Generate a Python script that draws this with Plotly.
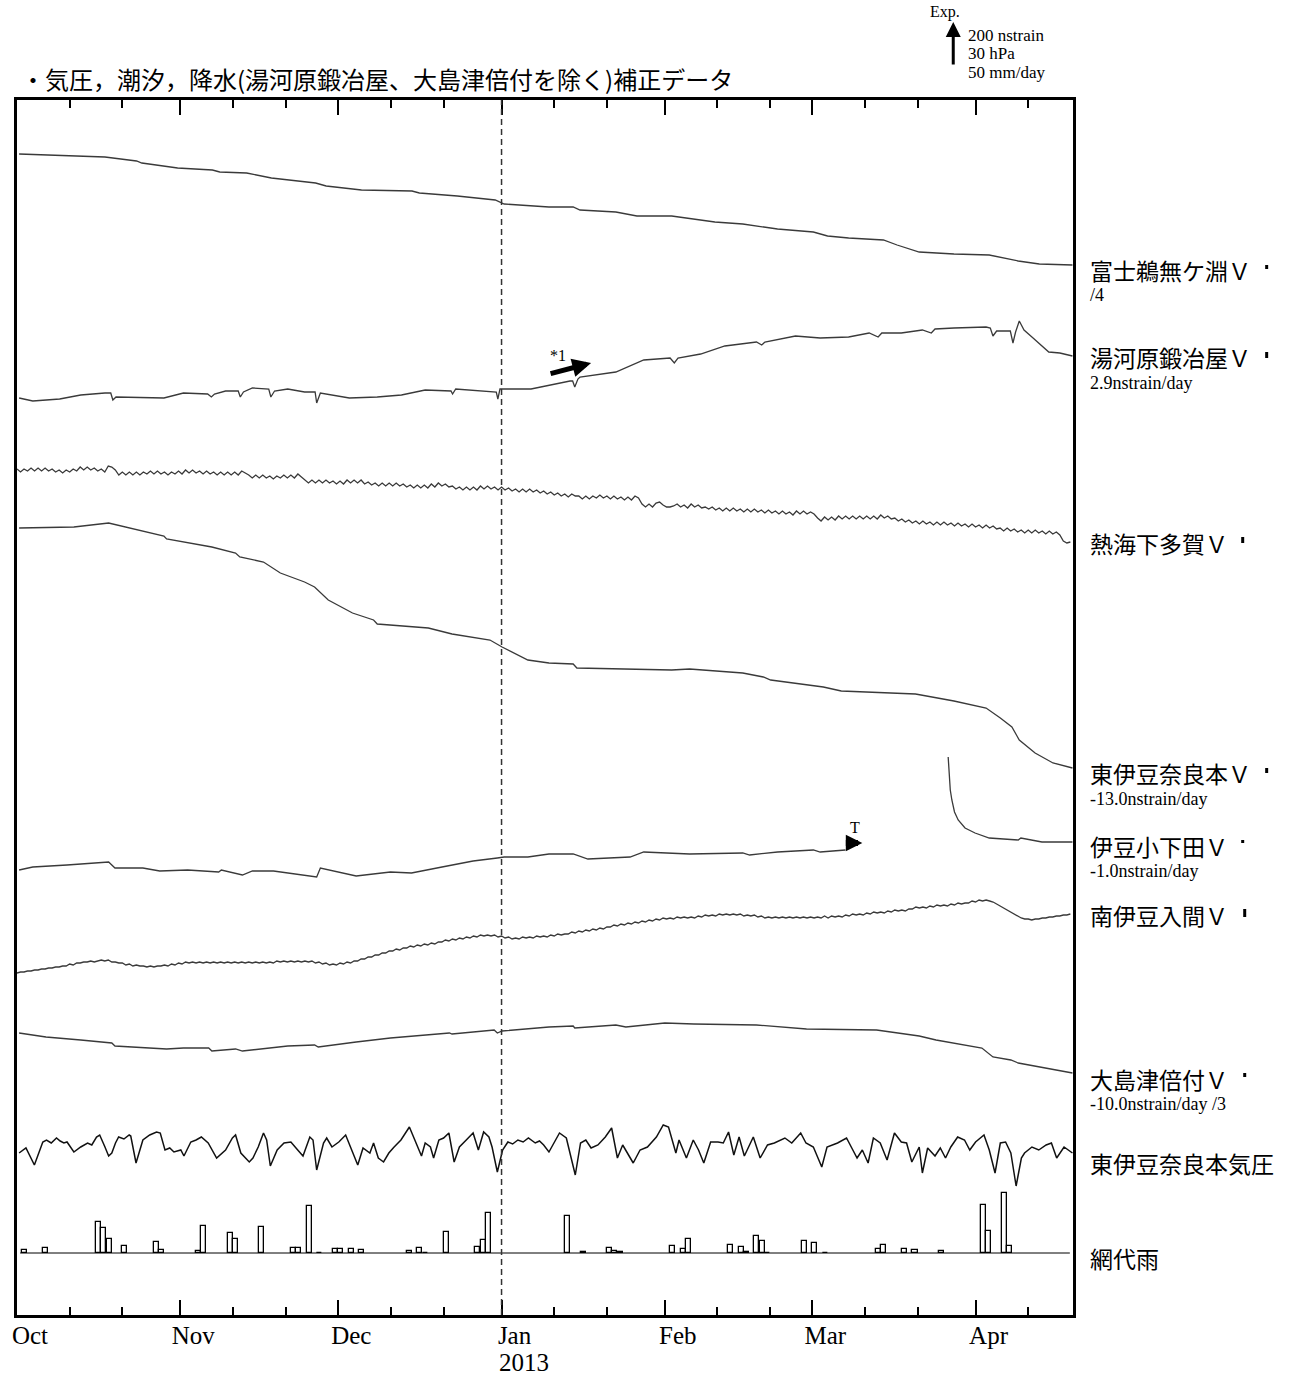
import pandas as pd
import plotly.graph_objects as go

# ---------------- time frame ----------------
START = pd.Timestamp("2012-10-01")
END = pd.Timestamp("2013-04-19 12:00")

month_ticks = ["2012-10-01", "2012-11-01", "2012-12-01", "2013-01-01", "2013-02-01", "2013-03-01", "2013-04-01"]
month_text = ["Oct", "Nov", "Dec", "Jan", "Feb", "Mar", "Apr"]
minor_ticks = ["2012-10-11", "2012-10-21", "2012-11-11", "2012-11-21", "2012-12-11", "2012-12-21",
               "2013-01-11", "2013-01-21", "2013-02-11", "2013-02-21", "2013-03-11", "2013-03-21",
               "2013-04-11"]

# ---------------- data (display units: 43 = 200 nstrain = 30 hPa = 50 mm/day) ----------------
# (day since 2012-10-01, deflection)
fuji = [(0.4, 0), (16.7, -3), (22.7, -7), (23.7, -9), (30.5, -14), (37.1, -16), (38.5, -18), (43.6, -19),
        (48.3, -24), (56.7, -29), (58.7, -32), (65.4, -36), (75.0, -37), (76.4, -39), (83.6, -42), (87.0, -44),
        (90.8, -46), (92.5, -50), (101.0, -53), (105.6, -53), (106.9, -56), (113.7, -58), (117.7, -62),
        (124.3, -62), (127.0, -64), (132.5, -68), (137.8, -70), (141.7, -73), (144.4, -75), (151.2, -78),
        (153.9, -82), (157.9, -84), (164.5, -86), (167.1, -91), (171.3, -98), (177.9, -100), (184.6, -101),
        (190.1, -107), (194.1, -110), (200.4, -111)]

yugawara = [(0.4, 0), (3.0, -3), (8.1, -1), (12.1, 3), (16.7, 5), (17.8, 5), (18.2, -2), (18.8, 1), (27.9, 0),
            (31.6, 5), (36.2, 4), (36.9, 1), (37.5, 4), (39.6, 7), (42.0, 7), (42.4, 1), (43.0, 6), (44.7, 10),
            (47.8, 9), (48.2, 1), (48.9, 7), (51.4, 9), (54.6, 6), (56.6, 6), (56.9, -5), (57.6, 5), (63.1, 0),
            (68.4, 1), (73.0, 3), (77.5, 8), (82.4, 7), (82.7, 4), (83.3, 9), (89.8, 6), (91.0, 6), (91.3, -1),
            (91.7, 9), (97.6, 9), (102.9, 15), (105.0, 17), (105.5, 17), (105.9, 11), (106.5, 19), (106.9, 21),
            (113.7, 26), (119.0, 38), (124.0, 40), (124.8, 35), (125.5, 40), (129.8, 44), (134.4, 52),
            (140.4, 56), (141.4, 53), (142.0, 56), (147.8, 62), (152.5, 60), (157.9, 61), (161.8, 65),
            (163.5, 61), (164.2, 65), (167.9, 65), (171.9, 68), (173.6, 65), (174.3, 69), (177.9, 70),
            (184.0, 71), (184.8, 70), (185.3, 62), (186.0, 67), (188.6, 67), (189.1, 55), (189.6, 66),
            (190.3, 77), (191.2, 68), (192.7, 61), (195.9, 46), (198.0, 45), (200.4, 42)]

# sampled every 16 h from 2012-10-01
atami = [1, -2, 1, -1, 2, -1, 2, -1, 2, -1, 1, -2, 0, -3, 0, -2, 1, -1, 3, 0, 3, 0, 2, -1,
         1, -2, 4, 3, 0, -5, -2, -5, -2, -5, -2, -5, -2, -4, -1, -4, -1, -4, -2, -5, -2, -4, -1, -4,
         0, -3, 0, -3, -1, -4, -1, -4, -2, -5, -2, -5, -2, -5, -2, -5, -1, -3, -5, -8, -5, -8, -5, -8,
         -6, -9, -6, -8, -5, -8, -5, -8, -4, -7, -10, -13, -10, -13, -10, -13, -10, -13,
         -11, -14, -11, -14, -10, -13, -10, -13, -10, -14, -12, -15, -13, -16, -13, -16, -13, -16,
         -13, -16, -14, -17, -15, -18, -15, -18, -15, -18, -14, -17, -13, -16, -14, -17, -16, -19,
         -17, -20, -17, -20, -17, -20, -16, -19, -16, -19, -17, -20, -17, -20, -18, -21, -19, -22,
         -19, -22, -19, -22, -20, -23, -21, -24, -22, -25, -23, -26, -24, -27, -24, -26, -26, -29,
         -26, -29, -26, -28, -25, -28, -26, -29, -26, -29, -27, -30, -27, -30, -26, -28, -34, -37,
         -34, -37, -33, -32, -35, -37, -37, -36, -34, -37, -35, -38, -34, -37, -35, -38, -37, -39,
         -37, -40, -38, -41, -38, -41, -38, -41, -39, -42, -39, -42, -39, -42, -40, -43, -40, -43,
         -41, -44, -41, -44, -42, -45, -41, -44, -41, -44, -42, -44, -48, -51, -47, -50, -47, -50,
         -46, -49, -46, -49, -46, -49, -46, -49, -46, -49, -46, -49, -45, -48, -46, -49, -48, -51,
         -49, -52, -50, -53, -51, -54, -51, -54, -52, -55, -52, -55, -52, -55, -53, -56, -53, -56,
         -54, -57, -54, -57, -55, -58, -55, -58, -56, -59, -58, -61, -58, -61, -59, -62, -60, -63,
         -60, -63, -60, -63, -61, -64, -61, -64, -62, -65, -71, -73, -72]

naramoto = [(0.4, 0), (10.8, 1), (17.4, 5), (22.0, -1), (27.9, -8), (28.4, -11), (37.0, -19), (41.5, -25),
            (42.3, -29), (46.8, -34), (50.0, -45), (54.6, -54), (56.5, -59), (59.1, -72), (63.7, -85),
            (67.7, -92), (68.4, -96), (78.1, -100), (82.6, -106), (89.8, -112), (92.1, -119), (97.0, -132),
            (101.0, -135), (105.6, -136), (106.3, -140), (124.3, -142), (127.7, -141), (137.8, -145),
            (141.7, -149), (143.1, -152), (153.1, -159), (156.5, -163), (164.5, -165), (170.6, -166),
            (177.9, -173), (184.0, -180), (186.7, -190), (188.9, -199), (190.3, -212), (193.3, -225),
            (196.7, -235), (200.4, -240)]

shimoda_a = [(0.4, -1), (3.0, 2), (9.5, 4), (17.4, 7), (18.6, 1), (23.9, 1), (27.1, -2), (32.4, -1), (38.3, -3),
             (38.8, -1), (42.8, -6), (44.7, -2), (48.7, -2), (54.6, -6), (56.9, -8), (57.6, 1), (61.2, -3),
             (64.4, -7), (70.9, -3), (74.9, -4), (80.7, 2), (86.6, 8), (91.2, 11), (92.5, 12), (97.0, 12),
             (101.0, 15), (104.2, 15), (105.6, 15), (108.4, 10), (116.4, 12), (119.0, 17), (127.7, 15),
             (137.8, 16), (139.1, 14), (144.4, 17), (151.2, 19), (152.5, 17), (157.3, 19)]
shimoda_b = [(176.8, 112), (177.0, 95), (177.2, 79), (177.5, 69), (178.0, 57), (178.7, 49), (180.0, 41),
             (181.9, 36), (184.6, 31), (190.1, 29), (190.6, 31), (194.6, 27), (200.4, 27)]

# sampled every 16 h from 2012-10-01
iruma = [0, 1, 1, 2, 2, 3, 3, 4, 4, 5, 5, 6, 6, 7, 7, 9, 8, 10, 10, 11, 11, 12, 11, 12,
         13, 12, 13, 11, 11, 10, 10, 8, 9, 7, 8, 7, 7, 6, 7, 6, 7, 7, 8, 7, 9, 8, 10, 9,
         11, 10, 11, 10, 11, 10, 11, 10, 11, 10, 11, 10, 11, 10, 11, 10, 11, 10, 11, 10, 11, 10, 11, 10,
         11, 10, 12, 11, 12, 11, 12, 11, 12, 11, 12, 11, 12, 10, 11, 9, 10, 8, 9, 8, 10, 9, 11, 10,
         12, 12, 14, 14, 16, 16, 18, 18, 20, 20, 22, 22, 24, 23, 25, 25, 27, 26, 28, 27, 29, 28, 30, 29,
         31, 31, 33, 32, 34, 33, 35, 34, 36, 35, 37, 36, 38, 37, 38, 37, 38, 36, 37, 35, 36, 34, 35, 34,
         36, 35, 36, 35, 37, 36, 37, 36, 38, 37, 39, 38, 39, 39, 41, 40, 42, 41, 43, 42, 44, 43, 45, 44,
         46, 46, 48, 47, 49, 48, 50, 49, 51, 50, 52, 51, 53, 52, 54, 53, 55, 54, 55, 54, 56, 55, 56, 55,
         56, 55, 57, 56, 58, 57, 58, 57, 59, 58, 59, 58, 59, 58, 59, 57, 58, 57, 58, 56, 57, 55, 56, 55,
         56, 55, 56, 55, 56, 55, 56, 55, 56, 55, 56, 55, 56, 55, 57, 55, 57, 56, 57, 56, 58, 57, 59, 58,
         59, 58, 60, 59, 61, 60, 61, 60, 62, 61, 63, 62, 63, 62, 64, 64, 66, 65, 66, 65, 67, 66, 68, 67,
         68, 67, 69, 68, 70, 69, 70, 70, 72, 71, 73, 72, 73, 72, 71, 69, 67, 65, 63, 61, 59, 57, 55, 54,
         54, 53, 54, 54, 55, 55, 56, 56, 57, 57, 58, 58, 59]

oshima = [(0.4, 0), (5.5, -4), (12.1, -7), (18.0, -10), (18.6, -13), (28.4, -16), (31.6, -15), (36.4, -15),
          (37.0, -18), (41.5, -16), (42.8, -18), (51.4, -13), (56.5, -12), (57.2, -14), (64.4, -9), (70.9, -5),
          (82.1, 0), (82.6, -1), (90.6, 3), (91.2, 0), (92.1, 2), (101.0, 6), (105.6, 7), (105.9, 5),
          (113.7, 8), (115.6, 6), (123.0, 10), (128.5, 9), (140.4, 8), (149.9, 4), (163.2, 3), (171.3, -3),
          (174.5, -7), (183.2, -15), (185.3, -24), (188.7, -27), (190.1, -30), (200.4, -40)]

pressure = [(0.4, 0), (1.7, 5), (3.3, -12), (4.9, 11), (5.6, 13), (6.5, 10), (7.5, 15), (8.2, 12), (8.9, 10),
            (9.5, 11), (10.8, 1), (12.1, 6), (13.4, 10), (14.2, 8), (15.1, 16), (15.7, 18), (16.7, 6),
            (17.4, -3), (18.0, 0), (18.7, 10), (19.3, 16), (20.3, 14), (21.3, 18), (21.6, 17), (22.6, -10),
            (23.9, 13), (25.2, 18), (26.5, 21), (27.2, 20), (28.1, 3), (29.0, 5), (29.8, 1), (31.1, 3),
            (31.7, -3), (33.0, 11), (34.0, 13), (35.0, 16), (36.3, 10), (37.9, -5), (39.6, 3), (40.9, 15),
            (41.5, 18), (42.5, 0), (44.1, -9), (44.8, -5), (45.8, 6), (46.8, 20), (47.4, 13), (48.1, -13),
            (49.4, 3), (50.7, 10), (52.0, 11), (53.3, 3), (54.3, -3), (55.6, 16), (56.2, 13), (56.9, -17),
            (58.2, 10), (58.8, 15), (59.8, 6), (61.1, 11), (62.4, 18), (63.7, 1), (64.7, -12), (65.7, 5),
            (67.0, 0), (67.7, 10), (68.6, -5), (69.6, -9), (70.6, 0), (71.6, 6), (72.9, 13), (74.5, 26),
            (75.5, 13), (76.8, -3), (77.5, 10), (78.5, 6), (79.1, -5), (80.1, 13), (81.0, 15), (82.0, 20),
            (83.0, -9), (84.0, 6), (85.3, 13), (86.6, 20), (87.6, 3), (88.6, 21), (89.6, 16), (90.2, 6),
            (91.2, -19), (92.2, 3), (93.2, 11), (94.1, 9), (95.1, 13), (96.1, 11), (97.1, 15), (98.4, 10),
            (99.2, 12), (100.0, 8), (101.0, 1), (103.0, 20), (104.3, 15), (106.0, -22), (107.0, 10),
            (108.0, 13), (109.0, 5), (110.3, 8), (111.7, 16), (112.9, 25), (114.0, -5), (115.0, 8),
            (117.0, -10), (118.3, 3), (119.7, 6), (121.4, 16), (122.7, 28), (123.7, 26), (125.1, 0),
            (125.7, 13), (127.1, -5), (128.4, 13), (129.4, 3), (130.4, -10), (131.7, 11), (133.1, 11),
            (134.1, 10), (135.1, 21), (136.1, -2), (137.1, 16), (138.1, -3), (139.8, 16), (141.1, -5),
            (142.5, 8), (143.8, 10), (145.8, 15), (147.1, 10), (148.8, 20), (149.8, 10), (151.2, 6),
            (152.8, -14), (153.8, 6), (155.8, 10), (157.5, 15), (158.5, 5), (159.5, -5), (160.5, 3),
            (161.6, -10), (162.6, 15), (163.9, 10), (165.2, -7), (166.6, 20), (167.9, 11), (168.9, 10),
            (169.9, -9), (171.3, 6), (171.9, -20), (172.9, 5), (174.3, -3), (175.3, 5), (176.3, -5),
            (177.3, 6), (178.6, 16), (179.9, 13), (180.9, 3), (182.0, 11), (183.6, 18), (184.6, 3),
            (185.7, -20), (186.7, 10), (187.7, 11), (188.7, 0), (189.7, -33), (190.7, -5), (191.3, 0),
            (192.7, 6), (194.0, 3), (195.4, 8), (196.4, 10), (197.4, -5), (198.8, 6), (200.4, 0)]

rain_day = [1, 5, 15, 16, 17, 20, 26, 27, 34, 35, 40, 41, 46, 52, 53, 55, 57, 60, 61, 63, 65, 74, 76, 77, 81,
            87, 88, 89, 104, 107, 112, 113, 114, 124, 126, 127, 135, 137, 138, 140, 141, 142, 149, 151, 153,
            163, 164, 168, 170, 175, 183, 184, 187, 188]
rain_mm = [3.5, 6, 36, 29, 16, 8, 13, 3.5, 2, 31, 23, 16, 30, 6, 6, 55, 0.5, 5, 4.5, 4.5, 3.5, 2.5, 6, 0.5, 24,
           7, 15, 47, 43, 1, 6, 2.5, 1, 8, 5, 16, 9, 7, 1, 20, 14, 0.5, 14, 12, 0.5, 5, 9, 5, 3.5, 2.5,
           56, 26, 70, 8]

# ---------------- layout constants ----------------
SCALE_UNITS = 43.0                 # display units for one scale bar
RAIN_PER_UNIT = SCALE_UNITS / 50.0
Y_MAX = 1215
BASE = dict(fuji=1161, yugawara=917, atami=845, naramoto=787, shimoda=446, iruma=342,
            oshima=282, pressure=162, rain=62)
LINE = dict(color="#3a3a3a", width=1.3)
SERIF = "Liberation Serif, Times New Roman, serif"
JP = "Noto Sans CJK JP, sans-serif"


def days_to_dates(days):
    return [START + pd.Timedelta(days=d) for d in days]


def pairs_trace(pairs, base, line=LINE):
    d = [p[0] for p in pairs]
    v = [base + p[1] for p in pairs]
    return go.Scatter(x=days_to_dates(d), y=v, mode="lines", line=line, hoverinfo="skip")


def sampled_trace(vals, base):
    x = pd.date_range(START, periods=len(vals), freq="16h")
    return go.Scatter(x=x, y=[base + v for v in vals], mode="lines", line=LINE, hoverinfo="skip")


fig = go.Figure()
fig.add_trace(pairs_trace(fuji, BASE["fuji"]))
fig.add_trace(pairs_trace(yugawara, BASE["yugawara"]))
fig.add_trace(sampled_trace(atami, BASE["atami"]))
fig.add_trace(pairs_trace(naramoto, BASE["naramoto"]))

sd = [p[0] for p in shimoda_a] + [None] + [p[0] for p in shimoda_b]
sx = [START + pd.Timedelta(days=d) if d is not None else None for d in sd]
sy = [BASE["shimoda"] + p[1] for p in shimoda_a] + [None] + [BASE["shimoda"] + p[1] for p in shimoda_b]
fig.add_trace(go.Scatter(x=sx, y=sy, mode="lines", line=LINE, connectgaps=False, hoverinfo="skip"))

fig.add_trace(sampled_trace(iruma, BASE["iruma"]))
fig.add_trace(pairs_trace(oshima, BASE["oshima"]))
fig.add_trace(pairs_trace(pressure, BASE["pressure"], line=dict(color="#111111", width=1.5)))

# rain bars
fig.add_trace(go.Bar(
    x=[START + pd.Timedelta(days=d + 0.5) for d in rain_day],
    y=[m * RAIN_PER_UNIT for m in rain_mm],
    base=BASE["rain"],
    width=0.95 * 86400000,
    marker=dict(color="white", line=dict(color="black", width=1.3)),
    hoverinfo="skip",
))

# ---------------- shapes ----------------
shapes = []
shapes.append(dict(type="line", xref="paper", yref="y", x0=0.003, x1=0.997,
                   y0=BASE["rain"], y1=BASE["rain"], line=dict(color="black", width=1)))
shapes.append(dict(type="line", xref="x", yref="paper", x0="2013-01-01", x1="2013-01-01",
                   y0=0, y1=1, line=dict(color="#333333", width=1.5, dash="6px,4px")))
marks = [(1.1834, 1046, 1050), (1.1834, 957, 963), (1.1607, 772, 778), (1.1834, 542, 547),
         (1.1607, 472, 475), (1.1626, 398, 406), (1.1626, 238, 242)]
for mx, y0, y1 in marks:
    shapes.append(dict(type="line", xref="paper", yref="y", x0=mx, x1=mx, y0=y0, y1=y1,
                       line=dict(color="black", width=3)))

# ---------------- annotations ----------------
ann = []
title = "・気圧，潮汐，降水(湯河原鍛冶屋、大島津倍付を除く)補正データ"
ann.append(dict(text=title, xref="paper", yref="paper", x=0.002, y=1.0181, xanchor="left", yanchor="middle",
                showarrow=False, font=dict(family=JP, size=24, color="black")))

labels = [("富士鵜無ケ淵Ｖ", 1045), ("湯河原鍛冶屋Ｖ", 958), ("熱海下多賀Ｖ", 772), ("東伊豆奈良本Ｖ", 542),
          ("伊豆小下田Ｖ", 469), ("南伊豆入間Ｖ", 400), ("大島津倍付Ｖ", 236), ("東伊豆奈良本気圧", 152),
          ("網代雨", 57)]
for t, y in labels:
    ann.append(dict(text=t, xref="paper", yref="y", x=1.0142, y=y, xanchor="left", yanchor="middle",
                    showarrow=False, font=dict(family=JP, size=23, color="black")))

sublabels = [("/4", 1020), ("2.9nstrain/day", 932), ("-13.0nstrain/day", 516), ("-1.0nstrain/day", 444),
             ("-10.0nstrain/day /3", 211)]
for t, y in sublabels:
    ann.append(dict(text=t, xref="paper", yref="y", x=1.0142, y=y, xanchor="left", yanchor="middle",
                    showarrow=False, font=dict(family=SERIF, size=18, color="black")))

ann.append(dict(text="2013", xref="x", yref="paper", x=START + pd.Timedelta(days=91.2), y=-0.0387,
                xanchor="left", yanchor="middle", showarrow=False,
                font=dict(family=SERIF, size=25, color="black")))

ann.append(dict(text="Exp.", xref="paper", yref="paper", x=0.879, y=1.0725, xanchor="center",
                yanchor="middle", showarrow=False, font=dict(family=SERIF, size=16, color="black")))
ann.append(dict(text="", xref="paper", yref="paper", x=0.8866, y=1.0642, ax=0, ay=44, axref="pixel",
                ayref="pixel", showarrow=True, arrowhead=2, arrowwidth=3, arrowsize=1, arrowcolor="black"))
for t, y in [("200 nstrain", 1.0527), ("30 hPa", 1.0379), ("50 mm/day", 1.0230)]:
    ann.append(dict(text=t, xref="paper", yref="paper", x=0.8989, y=y, xanchor="left", yanchor="middle",
                    showarrow=False, font=dict(family=SERIF, size=17, color="black")))

ann.append(dict(text="", xref="x", yref="y", x=START + pd.Timedelta(days=109.0), y=952, ax=-42, ay=11,
                showarrow=True, arrowhead=2, arrowwidth=5, arrowsize=0.75, arrowcolor="black"))
ann.append(dict(text="*1", xref="x", yref="y", x=START + pd.Timedelta(days=102.8), y=960,
                xanchor="center", yanchor="middle", showarrow=False,
                font=dict(family=SERIF, size=16, color="black")))
ann.append(dict(text="", xref="x", yref="y", x=START + pd.Timedelta(days=160.5), y=472, ax=-18, ay=0,
                showarrow=True, arrowhead=2, arrowwidth=6, arrowsize=0.55, arrowcolor="black"))
ann.append(dict(text="T", xref="x", yref="y", x=START + pd.Timedelta(days=159.2), y=488,
                xanchor="center", yanchor="middle", showarrow=False,
                font=dict(family=SERIF, size=16, color="black")))

fig.update_layout(
    width=1291, height=1375,
    margin=dict(l=15, r=218, t=100, b=60),
    paper_bgcolor="white", plot_bgcolor="white",
    showlegend=False, bargap=0,
    shapes=shapes, annotations=ann,
    xaxis=dict(
        type="date", range=[START, END],
        tickmode="array", tickvals=month_ticks, ticktext=month_text,
        ticks="inside", ticklen=15, tickwidth=2, tickcolor="black",
        minor=dict(tickmode="array", tickvals=minor_ticks, ticks="inside", ticklen=8,
                   tickwidth=2, tickcolor="black", showgrid=False),
        ticklabelshift=13, ticklabelstandoff=-4,
        tickfont=dict(family=SERIF, size=25, color="black"),
        showline=True, linewidth=3, linecolor="black", mirror="ticks",
        showgrid=False, zeroline=False,
    ),
    yaxis=dict(
        range=[0, Y_MAX], showticklabels=False, ticks="",
        showline=True, linewidth=3, linecolor="black", mirror=True,
        showgrid=False, zeroline=False,
    ),
)

# remove the browser's default 8px body margin so the figure sits at the page origin
fig.write_html("out.html", config={"displayModeBar": False},
               post_script="document.body.style.margin='0px';document.body.style.overflow='hidden';")
